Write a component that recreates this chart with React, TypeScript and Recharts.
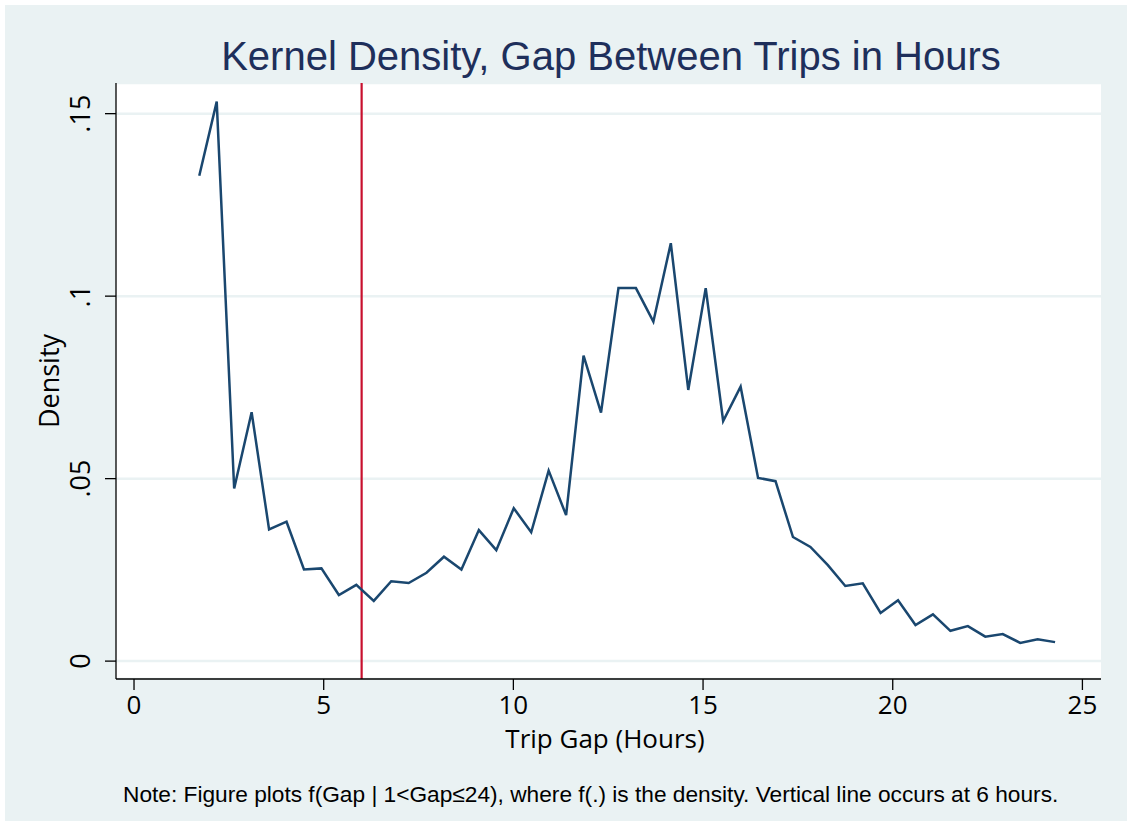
import React from 'react';
import { LineChart, Line, XAxis, YAxis, CartesianGrid, ReferenceLine } from 'recharts';

const gapHours = [
  1.72, 2.18, 2.64, 3.10, 3.56, 4.02, 4.48, 4.94, 5.40, 5.86,
  6.32, 6.78, 7.24, 7.71, 8.17, 8.63, 9.09, 9.55, 10.01, 10.47,
  10.93, 11.39, 11.85, 12.31, 12.77, 13.23, 13.69, 14.15, 14.61, 15.07,
  15.53, 15.99, 16.45, 16.91, 17.37, 17.83, 18.29, 18.75, 19.21, 19.68,
  20.14, 20.60, 21.06, 21.52, 21.98, 22.44, 22.90, 23.36, 23.82, 24.28,
];

const density = [
  0.1330, 0.1533, 0.0473, 0.0682, 0.0361, 0.0382, 0.0251, 0.0254, 0.0181, 0.0209,
  0.0165, 0.0219, 0.0214, 0.0242, 0.0286, 0.0251, 0.0359, 0.0304, 0.0419, 0.0353,
  0.0522, 0.0400, 0.0837, 0.0681, 0.1022, 0.1022, 0.0930, 0.1145, 0.0743, 0.1022,
  0.0658, 0.0752, 0.0502, 0.0493, 0.0340, 0.0313, 0.0263, 0.0206, 0.0213, 0.0132,
  0.0167, 0.0099, 0.0128, 0.0083, 0.0096, 0.0067, 0.0074, 0.0050, 0.0060, 0.0052,
];

const xTicks = [0, 5, 10, 15, 20, 25];
const yTicks = [0, 0.05, 0.1, 0.15];
const yTickLabels = ['0', '.05', '.1', '.15'];
const cutoffHours = 6;

const titleText = 'Kernel Density, Gap Between Trips in Hours';
const xTitleText = 'Trip Gap (Hours)';
const yTitleText = 'Density';
const noteText = 'Note: Figure plots f(Gap | 1<Gap\u226424), where f(.) is the density. Vertical line occurs at 6 hours.';

const data = gapHours.map((x, i) => ({ x, y: density[i] }));

const BG = '#EAF2F3';
const AXIS_FONT = '"Open Sans", "Noto Sans", sans-serif';
const TITLE_FONT = '"Liberation Sans", Arial, sans-serif';

const XTick = (props: any) => {
  const { x, y, payload } = props;
  return (
    <text x={x} y={y + 22} textAnchor="middle" fontFamily={AXIS_FONT} fontSize={26} fill="#000">
      {String(payload.value)}
    </text>
  );
};

const YTick = (props: any) => {
  const { x, y, payload } = props;
  const idx = yTicks.indexOf(payload.value);
  const label = idx >= 0 ? yTickLabels[idx] : String(payload.value);
  const bx = x - 13;
  return (
    <text
      x={bx}
      y={y}
      transform={`rotate(-90, ${bx}, ${y})`}
      textAnchor="middle"
      fontFamily={AXIS_FONT}
      fontSize={27}
      fill="#000"
    >
      {label}
    </text>
  );
};

export default function App() {
  return (
    <div style={{ position: 'absolute', left: 0, top: 0, width: 1127, height: 821, background: '#fff' }}>
      <div style={{ position: 'absolute', left: 5, top: 5, width: 1122, height: 816, background: BG }}>
        <LineChart
          width={1122}
          height={816}
          data={data}
          margin={{ top: 78, right: 26, bottom: 82, left: 51 }}
        >
          <CartesianGrid vertical={false} horizontal={true} fill="#fff" stroke={BG} strokeWidth={2.5} />
          <XAxis
            dataKey="x"
            type="number"
            domain={[-0.475, 25.49]}
            ticks={xTicks}
            allowDataOverflow
            height={60}
            tickSize={11}
            tickLine={{ stroke: '#000', strokeWidth: 1.3 }}
            axisLine={{ stroke: '#000', strokeWidth: 1.3 }}
            tick={<XTick />}
            interval={0}
          />
          <YAxis
            type="number"
            domain={[-0.0049, 0.1584]}
            ticks={yTicks}
            allowDataOverflow
            width={60}
            tickSize={11}
            tickLine={{ stroke: '#000', strokeWidth: 1.3 }}
            axisLine={{ stroke: '#000', strokeWidth: 1.3 }}
            tick={<YTick />}
            interval={0}
          />
          <ReferenceLine x={cutoffHours} stroke="#C8102E" strokeWidth={2.2} ifOverflow="visible" />
          <Line
            type="linear"
            dataKey="y"
            stroke="#1A476F"
            strokeWidth={2.5}
            dot={false}
            activeDot={false}
            isAnimationActive={false}
          />
        </LineChart>
      </div>
      <svg
        width={1127}
        height={821}
        style={{ position: 'absolute', left: 0, top: 0, pointerEvents: 'none' }}
      >
        <text x={611} y={70} textAnchor="middle" fontFamily={TITLE_FONT} fontSize={40} fill="#1E2F5B">
          {titleText}
        </text>
        <text x={605} y={748} textAnchor="middle" fontFamily={AXIS_FONT} fontSize={26} fill="#000">
          {xTitleText}
        </text>
        <text
          x={59}
          y={381}
          transform="rotate(-90, 59, 381)"
          textAnchor="middle"
          fontFamily={AXIS_FONT}
          fontSize={27}
          fill="#000"
        >
          {yTitleText}
        </text>
        <text x={123} y={802} textAnchor="start" fontFamily={TITLE_FONT} fontSize={22.7} fill="#000">
          {noteText}
        </text>
      </svg>
    </div>
  );
}
